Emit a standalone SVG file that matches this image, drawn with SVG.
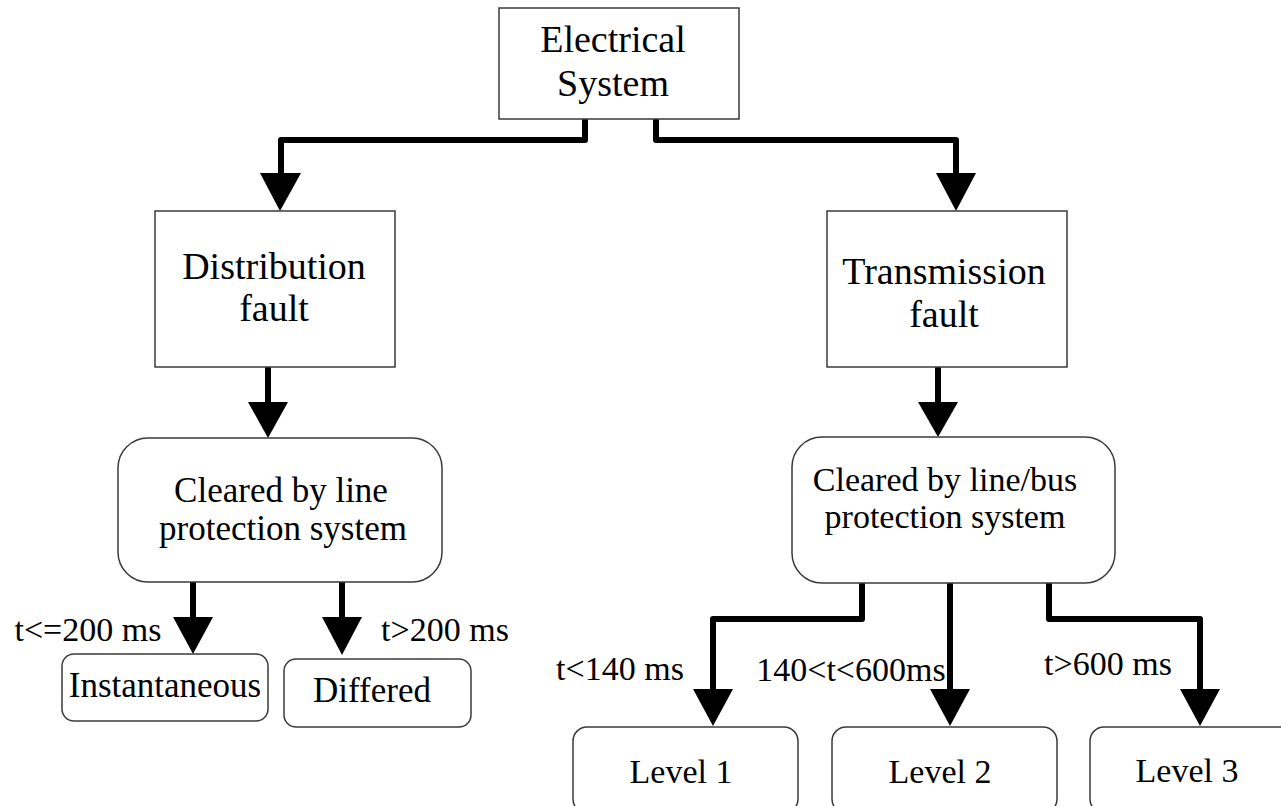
<svg xmlns="http://www.w3.org/2000/svg" width="1281" height="806" viewBox="0 0 1281 806">
  <style>
    .box { fill: #ffffff; stroke: #3a3a3a; stroke-width: 1.5; }
    .lbl { font-family: "Liberation Serif", "Times New Roman", serif; fill: #000000; text-anchor: middle; }
    .big { font-size: 38px; }
    .mid { font-size: 35px; }
    .sm { font-size: 34px; }
    .wire { fill: none; stroke: #000000; stroke-width: 6; stroke-linejoin: round; stroke-linecap: round; }
    .head { fill: #000000; }
  </style>
  <rect width="1281" height="806" fill="#ffffff"/>

  <!-- connectors -->
  <g id="connectors">
    <!-- root to the two fault types -->
    <path class="wire" d="M585,120 V140 H281 V176"/>
    <polygon class="head" points="260,173 301,173 280,211"/>
    <path class="wire" d="M656,120 V140 H956 V176"/>
    <polygon class="head" points="936,173 976,173 956,211"/>
    <!-- fault to clearing system -->
    <path class="wire" d="M268,368 V405"/>
    <polygon class="head" points="248,402 288,402 268,438"/>
    <path class="wire" d="M938,368 V405"/>
    <polygon class="head" points="918,402 958,402 938,437"/>
    <!-- distribution outcomes -->
    <path class="wire" d="M193,583 V620"/>
    <polygon class="head" points="173,617 213,617 193,654"/>
    <path class="wire" d="M342,583 V620"/>
    <polygon class="head" points="322,617 362,617 342,655"/>
    <!-- transmission levels -->
    <path class="wire" d="M862,584 V619 H713 V692"/>
    <polygon class="head" points="693,689 733,689 713,726"/>
    <path class="wire" d="M950,584 V692"/>
    <polygon class="head" points="930,689 970,689 950,726"/>
    <path class="wire" d="M1049,584 V619 H1200 V692"/>
    <polygon class="head" points="1180,689 1220,689 1200,726"/>
  </g>

  <!-- edge labels -->
  <g id="labels">
    <text class="lbl sm" x="88" y="641">t&lt;=200 ms</text>
    <text class="lbl sm" x="445" y="641">t&gt;200 ms</text>
    <text class="lbl sm" x="620" y="680">t&lt;140 ms</text>
    <text class="lbl sm" x="851" y="681">140&lt;t&lt;600ms</text>
    <text class="lbl sm" x="1108" y="675">t&gt;600 ms</text>
  </g>

  <g id="electrical-system">
    <rect class="box" x="499" y="8" width="240" height="111"/>
    <text class="lbl big" x="613" y="52">Electrical</text>
    <text class="lbl big" x="613" y="96">System</text>
  </g>

  <g id="distribution-fault">
    <rect class="box" x="155" y="211" width="240" height="156"/>
    <text class="lbl big" x="274" y="279">Distribution</text>
    <text class="lbl big" x="274" y="321">fault</text>
  </g>

  <g id="transmission-fault">
    <rect class="box" x="827" y="211" width="240" height="156"/>
    <text class="lbl big" x="944" y="284">Transmission</text>
    <text class="lbl big" x="944" y="327">fault</text>
  </g>

  <g id="cleared-line">
    <rect class="box" x="118" y="438" width="324" height="144" rx="30" ry="30"/>
    <text class="lbl mid" x="281" y="502">Cleared by line</text>
    <text class="lbl mid" x="283" y="540">protection system</text>
  </g>

  <g id="cleared-line-bus">
    <rect class="box" x="792" y="437" width="323" height="146" rx="30" ry="30"/>
    <text class="lbl sm" x="945" y="491">Cleared by line/bus</text>
    <text class="lbl sm" x="945" y="528">protection system</text>
  </g>

  <g id="instantaneous">
    <rect class="box" x="62" y="654" width="206" height="67" rx="12" ry="12"/>
    <text class="lbl mid" x="165" y="697">Instantaneous</text>
  </g>

  <g id="differed">
    <rect class="box" x="284" y="659" width="187" height="68" rx="12" ry="12"/>
    <text class="lbl mid" x="372" y="702">Differed</text>
  </g>

  <g id="level-1">
    <rect class="box" x="573" y="727" width="225" height="86" rx="14" ry="14"/>
    <text class="lbl sm" x="681" y="783">Level 1</text>
  </g>

  <g id="level-2">
    <rect class="box" x="832" y="727" width="225" height="86" rx="14" ry="14"/>
    <text class="lbl sm" x="940" y="783">Level 2</text>
  </g>

  <g id="level-3">
    <rect class="box" x="1090" y="727" width="225" height="86" rx="14" ry="14"/>
    <text class="lbl sm" x="1187" y="782">Level 3</text>
  </g>
</svg>
